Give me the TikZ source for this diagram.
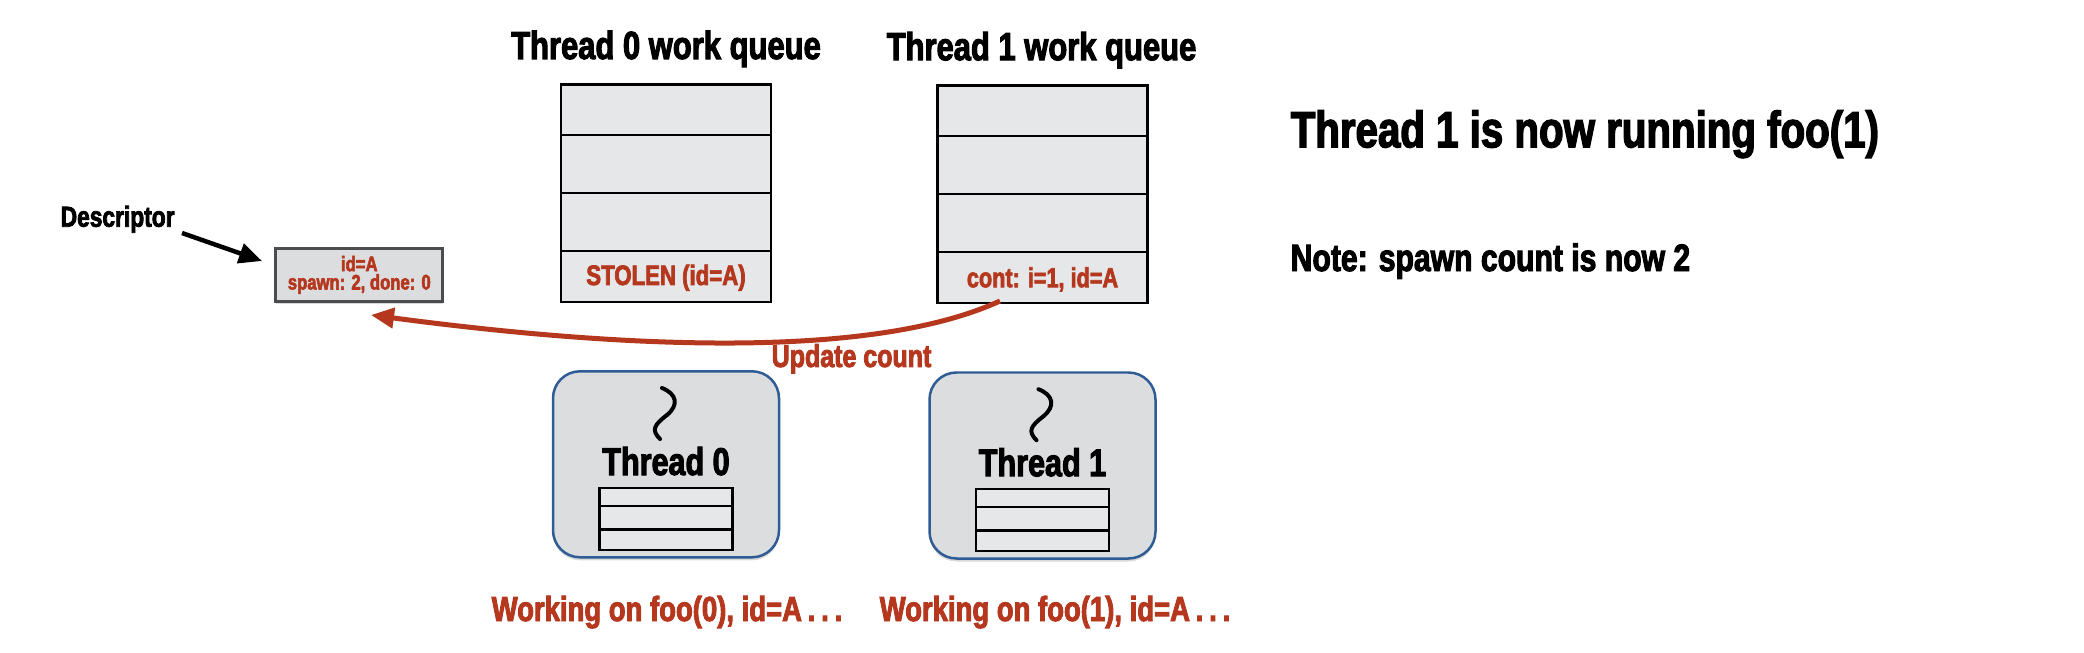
\documentclass[tikz,border=0pt]{standalone}
\usepackage{fontspec}
\setmainfont[FakeStretch=0.79,BoldFeatures={FakeBold=2.6}]{Liberation Sans}
\usepackage{tikz}
\usetikzlibrary{arrows.meta,shadows}

\definecolor{tred}{HTML}{B5371D}
\definecolor{tblue}{HTML}{2F5C94}
\definecolor{cellgray}{HTML}{E6E7E8}
\definecolor{boxgray}{HTML}{DCDDDF}

\tikzset{
    cellbox/.style={draw=black, line width=0.025cm, fill=cellgray, inner sep=0pt, minimum width=2.10cm},
    stackbox/.style={draw=black, line width=0.025cm, fill=cellgray, inner sep=0pt, minimum width=1.33cm},
    threadbox/.style={draw=tblue, line width=0.025cm, fill=boxgray, rounded corners=0.27cm, inner sep=0pt,
        minimum width=2.26cm, minimum height=1.86cm,
        drop shadow={shadow xshift=0pt, shadow yshift=-0.03cm, opacity=0.3}},
    descbox/.style={draw=black!70, line width=0.03cm, fill=boxgray, inner sep=0pt, align=center,
        minimum width=1.67cm, minimum height=0.53cm, text=tred, font=\bfseries\fontsize{6}{5.2}\selectfont,
        drop shadow={shadow xshift=0pt, shadow yshift=-0.03cm, opacity=0.3}},
    biglabel/.style={anchor=base west, inner sep=0pt, font=\bfseries\fontsize{14.5}{16}\selectfont},
    headlabel/.style={anchor=base, inner sep=0pt, font=\bfseries\fontsize{11.15}{13}\selectfont},
    smalllabel/.style={anchor=base, inner sep=0pt, font=\bfseries\fontsize{8.2}{10}\selectfont}
}

\begin{document}
\begin{tikzpicture}[scale=1]

\useasboundingbox (0,0) rectangle (20.84,6.52);

% =========================
% LEFT: Thread 0
% =========================
\begin{scope}[shift={(6.66,0)}]

    % Queue
    \node[headlabel] (title0) at (0,5.93) {Thread 0 work queue};
    \node[cellbox, minimum height=0.505cm] (qzero1) at (0,5.4225) {};
    \node[cellbox, minimum height=0.58cm] (qzero2) at (0,4.88) {};
    \node[cellbox, minimum height=0.58cm] (qzero3) at (0,4.30) {};
    \node[cellbox, minimum height=0.51cm] (qzero4) at (0,3.755) {};
    \node[headlabel, text=tred, font=\bfseries\fontsize{8}{10}\selectfont] (stolen) at (0,3.67) {STOLEN (id=A)};

    % Worker
    \node[threadbox] (worker0) at (0,1.877) {};
    \draw[line width=0.04cm, line cap=round] (-0.04,2.64) .. controls (0.11,2.58) and (0.13,2.47) .. (0.01,2.37)
        .. controls (-0.12,2.27) and (-0.15,2.22) .. (-0.06,2.13);
    \node[headlabel, font=\bfseries\fontsize{11}{13}\selectfont] (name0) at (0,1.77) {Thread 0};
    \node[stackbox, minimum height=0.18cm] (szero1) at (0,1.55) {};
    \node[stackbox, minimum height=0.233cm] (szero2) at (0,1.3435) {};
    \node[stackbox, minimum height=0.207cm] (szero3) at (0,1.1235) {};
\end{scope}

% =========================
% MIDDLE: Thread 1
% =========================
\begin{scope}[shift={(10.425,-0.012)}]

    % Queue
    \node[headlabel] (title1) at (-0.01,5.93) {Thread 1 work queue};
    \node[cellbox, minimum height=0.505cm] (qone1) at (0,5.4225) {};
    \node[cellbox, minimum height=0.58cm] (qone2) at (0,4.88) {};
    \node[cellbox, minimum height=0.58cm] (qone3) at (0,4.30) {};
    \node[cellbox, minimum height=0.51cm] (qone4) at (0,3.755) {};
    \node[headlabel, text=tred, font=\bfseries\fontsize{7.8}{10}\selectfont] (cont) at (0,3.66) {cont: i=1, id=A};

    % Worker
    \node[threadbox] (worker1) at (0,1.877) {};
    \draw[line width=0.04cm, line cap=round] (-0.04,2.64) .. controls (0.11,2.58) and (0.13,2.47) .. (0.01,2.37)
        .. controls (-0.12,2.27) and (-0.15,2.22) .. (-0.06,2.13);
    \node[headlabel, font=\bfseries\fontsize{11}{13}\selectfont] (name1) at (0,1.77) {Thread 1};
    \node[stackbox, minimum height=0.18cm] (sone1) at (0,1.55) {};
    \node[stackbox, minimum height=0.233cm] (sone2) at (0,1.3435) {};
    \node[stackbox, minimum height=0.207cm] (sone3) at (0,1.1235) {};
\end{scope}

% Working labels
\node[headlabel, text=tred, font=\bfseries\fontsize{9.9}{12}\selectfont] (work0) at (6.67,0.31) {Working on foo(0), id=A\,.\,.\,.};
\node[headlabel, text=tred, font=\bfseries\fontsize{9.9}{12}\selectfont] (work1) at (10.55,0.31) {Working on foo(1), id=A\,.\,.\,.};

% Descriptor
\node[descbox] (descr) at (3.593,3.771) {id=A\\spawn: 2, done: 0};
\node[smalllabel, anchor=base west] (descrname) at (0.60,4.253) {Descriptor};
\coordinate (namefrom) at (1.82,4.19);
\coordinate (nameto) at (2.62,3.91);
\draw[-{Triangle[length=0.23cm,width=0.2cm]}, line width=0.045cm] (namefrom) -- (nameto);

% Update
\coordinate (updfrom) at (10.00,3.51);
\coordinate (updto) at (3.71,3.37);
\draw[-{Triangle[length=0.23cm,width=0.2cm]}, line width=0.05cm, tred] (updfrom)
    .. controls (8.80,2.96) and (6.50,3.00) .. (updto);
\node[smalllabel, anchor=base west, text=tred, font=\bfseries\fontsize{9}{11}\selectfont] (update) at (7.71,2.85) {Update count};

% Notes
\node[biglabel] (running) at (12.90,5.047) {Thread 1 is now running foo(1)};
\node[biglabel, font=\bfseries\fontsize{10.85}{13}\selectfont] (note) at (12.90,3.81) {Note: spawn count is now 2};

\end{tikzpicture}
\end{document}
